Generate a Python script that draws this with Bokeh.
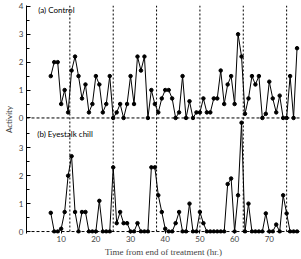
from bokeh.plotting import figure
from bokeh.models import Range1d, Span, Label, FixedTicker, CustomJSTickFormatter
from bokeh.embed import file_html
from bokeh.resources import INLINE

# ---- data ----
hours = list(range(7, 79))
control = [1.5, 2.0, 2.0, 0.5, 1.0, 0.2, 1.7, 2.2, 1.5, 0.7,
           1.2, 0.2, 0.5, 1.5, 1.2, 0.2, 0.5, 1.5, 0.0, 0.2,
           0.5, 0.0, 0.5, 1.5, 0.5, 2.2, 1.7, 2.2, 0.0, 1.0,
           0.5, 0.2, 0.7, 1.0, 1.0, 0.7, 0.0, 0.2, 1.5, 0.0,
           0.6, 0.0, 0.2, 0.2, 0.7, 0.2, 0.2, 0.7, 0.7, 1.7,
           0.5, 1.2, 1.5, 0.5, 3.0, 2.2, 0.15, 0.7, 1.5, 1.2,
           1.5, 0.0, 0.15, 1.3, 0.7, 0.2, 0.8, 0.0, 0.0, 1.5,
           0.0, 2.5]
chill = [0.67, 0.0, 0.0, 0.1, 0.7, 2.0, 2.7, 0.7, 0.0, 0.7,
         0.7, 0.0, 0.0, 0.0, 1.1, 0.0, 0.0, 0.0, 2.3, 0.3,
         0.7, 0.3, 0.3, 0.0, 0.0, 0.3, 0.0, 0.0, 0.0, 2.3,
         2.3, 1.3, 0.7, 0.1, 0.0, 0.0, 0.3, 0.7, 0.0, 0.0,
         1.0, 0.0, 0.0, 0.7, 0.3, 0.0, 0.0, 0.0, 0.0, 0.0,
         0.0, 1.7, 1.9, 0.0, 1.3, 3.9, 0.0, 1.0, 0.0, 0.0,
         0.0, 0.0, 0.65, 0.0, 0.0, 0.25, 0.0, 1.3, 0.65, 0.0,
         0.0, 0.0]
x_ticks = [10, 20, 30, 40, 50, 60, 70]
y_ticks_a = [0, 1, 2, 3, 4]
y_ticks_b = [0, 1, 2, 3]
tidal_hours = [12.5, 25, 37.5, 50, 62.5, 75]
panel_a_label = "(a) Control"
panel_b_label = "(b) Eyestalk chill"
x_title = "Time from end of treatment (hr.)"
y_title = "Activity"

# ---- layout constants ----
OFFSET = 4.07          # where panel (a)'s zero sits on panel (b)'s scale
Y0, Y1 = -0.07, 8.1

p = figure(width=301, height=259, output_backend="svg", toolbar_location=None,
           x_range=Range1d(0, 79), y_range=Range1d(Y0, Y1),
           min_border_left=20, min_border_right=1, min_border_top=5,
           min_border_bottom=25)
p.extra_y_ranges = {"a": Range1d(Y0 - OFFSET, Y1 - OFFSET)}
p.outline_line_color = None
p.grid.visible = False
p.background_fill_color = "white"
p.border_fill_color = "white"

# y axis (shared line for both panels)
yax = p.yaxis[0]
major = [t for t in y_ticks_b] + [t + OFFSET for t in y_ticks_a]
minor = [t + 0.5 for t in y_ticks_b] + [t + 0.5 + OFFSET for t in y_ticks_a[:-1]]
yax.ticker = FixedTicker(ticks=major, minor_ticks=minor)
yax.formatter = CustomJSTickFormatter(args=dict(off=OFFSET),
    code="return (tick >= off - 0.01 ? tick - off : tick).toFixed(0);")
yax.major_tick_in = 4
yax.major_tick_out = 0
yax.minor_tick_in = 3
yax.minor_tick_out = 0
yax.axis_line_color = "black"
yax.major_label_text_font = "Lato"
yax.major_label_text_font_size = "8px"
yax.major_label_standoff = 3
yax.axis_label = y_title
yax.axis_label_text_font = "Lato"
yax.axis_label_text_font_size = "8px"
yax.axis_label_text_font_style = "normal"
yax.axis_label_standoff = 2

xax = p.xaxis[0]
xax.ticker = FixedTicker(ticks=x_ticks, minor_ticks=[])
xax.axis_line_color = None
xax.major_tick_in = 3
xax.major_tick_out = 0
xax.major_label_text_font = "Lato"
xax.major_label_text_font_size = "8px"
xax.major_label_standoff = 2
xax.axis_label = x_title
xax.axis_label_text_font = "Liberation Serif"
xax.axis_label_text_font_size = "9px"
xax.axis_label_text_font_style = "normal"
xax.axis_label_standoff = 2

# baselines and tidal lines
p.add_layout(Span(location=0, dimension="width", line_color="black",
                  line_width=1, line_dash="3 2"))
p.add_layout(Span(location=0, dimension="width", line_color="black",
                  line_width=1, line_dash="3 2", y_range_name="a"))
for h in tidal_hours:
    p.add_layout(Span(location=h, dimension="height", line_color="black",
                      line_width=1, line_dash="2 2"))

# series
p.line(hours, control, y_range_name="a", line_color="black", line_width=1)
p.scatter(hours, control, y_range_name="a", size=3.5, color="black")
p.line(hours, chill, line_color="black", line_width=1)
p.scatter(hours, chill, size=3.5, color="black")

p.add_layout(Label(x=3.4, y=3.86, y_range_name="a", text=panel_a_label,
                   text_font="Lato", text_font_size="8px",
                   text_baseline="middle", text_color="black"))
p.add_layout(Label(x=3.1, y=3.5, text=panel_b_label,
                   text_font="Lato", text_font_size="8px",
                   text_baseline="middle", text_color="black"))

open("out.html", "w").write(file_html(p, INLINE))
